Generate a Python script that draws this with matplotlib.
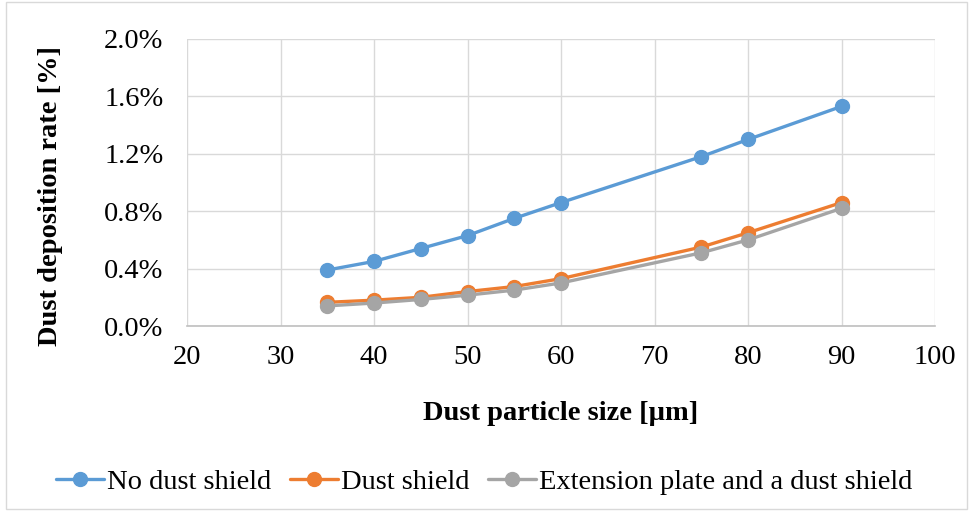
import matplotlib
matplotlib.use("Agg")
import matplotlib.pyplot as plt
from matplotlib.patches import Rectangle
from matplotlib.ticker import FuncFormatter, MultipleLocator

# Dust particle size [µm] and deposition rate [%] per configuration
particle_size = [35, 40, 45, 50, 55, 60, 75, 80, 90]
no_shield = [0.39, 0.45, 0.54, 0.63, 0.75, 0.86, 1.18, 1.30, 1.53]
dust_shield = [0.165, 0.18, 0.20, 0.24, 0.275, 0.33, 0.55, 0.65, 0.86]
plate_and_shield = [0.14, 0.16, 0.185, 0.215, 0.25, 0.30, 0.51, 0.60, 0.82]

series = [
    ("No dust shield", no_shield, "#5B9BD5"),
    ("Dust shield", dust_shield, "#ED7D31"),
    ("Extension plate and a dust shield", plate_and_shield, "#A5A5A5"),
]

plt.rcParams["font.family"] = ["Liberation Serif", "DejaVu Serif"]
FS = 20.5

fig = plt.figure(figsize=(9.73, 5.11), dpi=100)
ax = fig.add_axes([187 / 973, 1 - 326 / 511, (935 - 187) / 973, (326 - 39) / 511])

for label, values, color in series:
    ax.plot(particle_size, values, color=color, lw=2.4, marker="o", ms=10,
            label=label, solid_capstyle="round")

ax.set_xlim(20, 100)
ax.set_ylim(0, 2.0)
ax.xaxis.set_major_locator(MultipleLocator(10))
ax.yaxis.set_major_locator(MultipleLocator(0.4))
ax.yaxis.set_major_formatter(FuncFormatter(lambda v, _: f"{v:.1f}%"))
ax.tick_params(length=0, labelsize=FS)
ax.tick_params(axis="y", pad=17)
ax.tick_params(axis="x", pad=14)
ax.grid(color="#d9d9d9", lw=1)
ax.set_axisbelow(True)
for side in ("top", "right", "left"):
    ax.spines[side].set_visible(False)
ax.spines["bottom"].set_color("#bfbfbf")
ax.spines["bottom"].set_linewidth(1.2)

ax.set_xlabel("Dust particle size [µm]", fontsize=FS, fontweight="bold")
ax.set_ylabel("Dust deposition rate [%]", fontsize=FS, fontweight="bold")
ax.xaxis.set_label_coords(0.5, -(413 - 326) / 287, transform=ax.transAxes)
ax.xaxis.label.set_va("center")
ax.yaxis.set_label_coords(-(187 - 51) / 748, (326 - 196) / 287, transform=ax.transAxes)
ax.yaxis.label.set_va("center")

fig.legend(loc="center", bbox_to_anchor=(484 / 973, 1 - 482 / 511), ncol=3, frameon=False,
           fontsize=FS, handlelength=1.7, handletextpad=0.1, columnspacing=0.65,
           borderaxespad=0)

# thin frame round the whole chart area
fig.patches.append(Rectangle((0.006, 0.004), 0.988, 0.992, transform=fig.transFigure,
                             fill=False, edgecolor="#d9d9d9", lw=1))

fig.savefig("out.png", dpi=100)
